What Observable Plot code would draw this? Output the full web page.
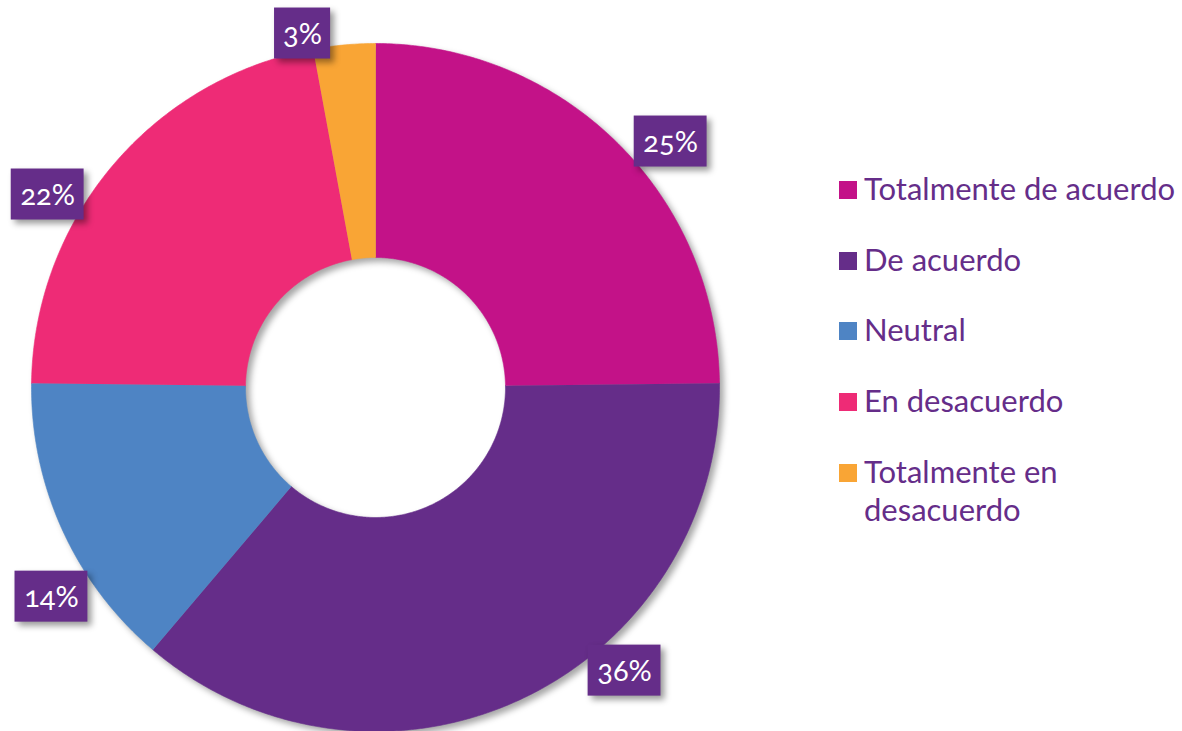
<!DOCTYPE html>
<html><head><meta charset="utf-8">
<script src="https://cdn.jsdelivr.net/npm/d3@7"></script>
<script src="https://cdn.jsdelivr.net/npm/@observablehq/plot@0.6"></script>
<style>
html,body{margin:0;padding:0;background:#fff;}
#wrap{position:relative;width:1182px;height:731px;overflow:hidden;font-family:Lato,"Open Sans",sans-serif;}
#legend{position:absolute;left:839px;top:0;width:343px;}
.item{position:absolute;left:0;display:flex;align-items:flex-start;color:#652D89;font-size:31px;line-height:38px;}
.sw{width:18px;height:18px;flex:none;margin-top:12px;margin-right:7px;}
.txt{width:318px;}
</style>
</head><body>
<div id="wrap"><div id="legend"></div></div>
<script>
const categories = ["Totalmente de acuerdo","De acuerdo","Neutral","En desacuerdo","Totalmente en desacuerdo"];
const values = [24.8, 36.4, 14.0, 21.9, 2.9];
const labels = ["25%","36%","14%","22%","3%"];
const colors = ["#C31288","#652D89","#4E84C4","#EE2B76","#F9A535"];
// label box anchors in unit-circle coordinates (best-fit placement as in the original)
const labelX = [0.858, 0.724, -0.942, -0.953, -0.212];
const labelY = [0.715, -0.823, -0.608, 0.561, 1.029];

const R = 344, innerR = 130 / R;
const rows = categories.map((c, i) => ({category: c, value: values[i]}));
const arcs = d3.pie().sort(null).value(d => d.value)(rows);
const pts = [];
for (const a of arcs) {
  const n = Math.max(2, Math.ceil((a.endAngle - a.startAngle) / (Math.PI / 360)));
  const ang = k => a.startAngle + (a.endAngle - a.startAngle) * k / n;
  for (let k = 0; k <= n; k++) pts.push({category: a.data.category, x: Math.sin(ang(k)), y: Math.cos(ang(k))});
  for (let k = n; k >= 0; k--) pts.push({category: a.data.category, x: innerR * Math.sin(ang(k)), y: innerR * Math.cos(ang(k))});
}

const fontLab = "29px Lato";
const ctx = document.createElement("canvas").getContext("2d");
ctx.font = fontLab;
const labelRows = labels.map((t, i) => {
  const w = (ctx.measureText(t).width + 16) / R / 2, h = 51 / R / 2;
  return {label: t, x: labelX[i], y: labelY[i], x1: labelX[i] - w, x2: labelX[i] + w, y1: labelY[i] - h, y2: labelY[i] + h};
});

const plot = Plot.plot({
  width: 1182, height: 731, margin: 0,
  style: {background: "transparent", overflow: "visible"},
  x: {domain: [-1, 1], range: [375 - R, 375 + R], axis: null},
  y: {domain: [-1, 1], range: [387 + R, 387 - R], axis: null},
  color: {domain: categories, range: colors},
  marks: [
    Plot.line(pts, {x: "x", y: "y", z: "category", fill: "category", stroke: "category", strokeWidth: 0.6, curve: "linear"}),
    Plot.rect(labelRows, {x1: "x1", x2: "x2", y1: "y1", y2: "y2", fill: "#652D89"}),
    Plot.text(labelRows, {x: "x", y: "y", text: "label", fill: "white", fontSize: 29, fontFamily: "Lato, 'Open Sans', sans-serif", dy: 1})
  ]
});
document.getElementById("wrap").prepend(plot);
const svg = d3.select(plot);
svg.selectAll("g[aria-label='line']").style("filter", "drop-shadow(4px 4px 3px rgba(0,0,0,0.35))");
svg.selectAll("g[aria-label='rect']").style("filter", "drop-shadow(4px 4px 3px rgba(0,0,0,0.4))");
svg.selectAll("g[aria-label='text'] text").style("font-variant-numeric", "oldstyle-nums");

const legend = d3.select("#legend");
categories.forEach((c, i) => {
  const it = legend.append("div").attr("class", "item").style("top", (169 + i * 70.7) + "px");
  it.append("div").attr("class", "sw").style("background", colors[i]);
  it.append("div").attr("class", "txt").text(c);
});
</script>
</body></html>
